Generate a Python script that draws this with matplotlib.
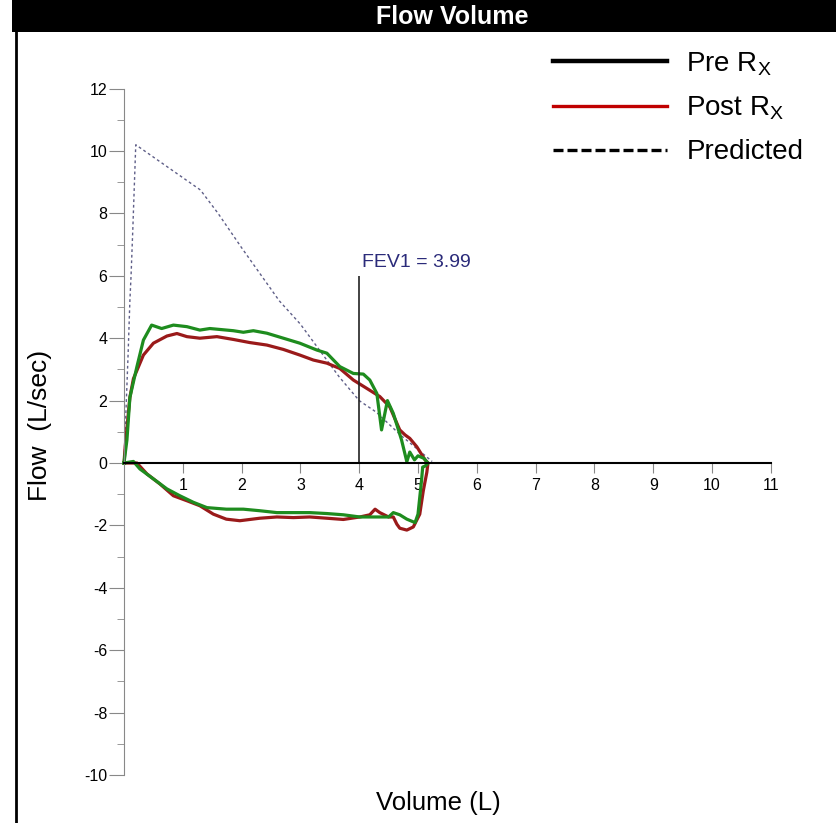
import matplotlib
matplotlib.use('Agg')
import matplotlib.pyplot as plt
from matplotlib.lines import Line2D
from matplotlib.patches import Rectangle

plt.rcParams['font.family'] = ['Liberation Sans', 'DejaVu Sans']
plt.rcParams['mathtext.default'] = 'regular'
plt.rcParams['axes.unicode_minus'] = False

# Post Rx loop (dark red): expiratory limb, then inspiratory limb back to 0
post_vol = [0.0, 0.02, 0.1, 0.16, 0.33, 0.5, 0.73, 0.9, 1.07, 1.29, 1.58, 1.86, 2.14, 2.43,
            2.71, 2.99, 3.22, 3.45, 3.67, 3.9, 4.13, 4.35, 4.52, 4.6, 4.69, 4.78, 4.86, 4.98,
            5.12, 5.17,
            5.15, 5.09, 5.03, 4.92, 4.81, 4.69, 4.64, 4.58, 4.5, 4.35, 4.27, 4.18, 4.01, 3.73,
            3.45, 3.16, 2.88, 2.6, 2.31, 1.97, 1.74, 1.52, 1.29, 1.07, 0.84, 0.61, 0.39, 0.22, 0.0]
post_flow = [0.0, 0.52, 2.1, 2.7, 3.46, 3.84, 4.07, 4.15, 4.05, 4.0, 4.05, 3.96, 3.86, 3.78,
             3.64, 3.46, 3.3, 3.2, 3.03, 2.66, 2.39, 2.13, 1.8, 1.45, 1.06, 0.9, 0.79, 0.52,
             0.1, 0.0,
             -0.3, -0.89, -1.64, -2.05, -2.15, -2.09, -1.96, -1.73, -1.73, -1.59, -1.48, -1.66,
             -1.73, -1.81, -1.77, -1.73, -1.75, -1.73, -1.77, -1.85, -1.8, -1.64, -1.37, -1.21,
             -1.05, -0.67, -0.35, 0.0, 0.0]

# second loop (green)
pre_vol = [0.0, 0.05, 0.1, 0.22, 0.33, 0.47, 0.64, 0.84, 1.07, 1.29, 1.46, 1.86, 2.03, 2.2,
           2.43, 2.71, 2.99, 3.28, 3.45, 3.67, 3.9, 4.07, 4.18, 4.3, 4.38, 4.48, 4.58, 4.72,
           4.81, 4.86, 4.94, 5.0, 5.1, 5.17,
           5.12, 5.08, 5.06, 5.0, 4.95, 4.81, 4.69, 4.58, 4.5, 4.29, 4.01, 3.73, 3.45, 3.16,
           2.88, 2.6, 2.31, 2.03, 1.74, 1.41, 1.18, 0.95, 0.73, 0.5, 0.27, 0.16, 0.0]
pre_flow = [0.0, 0.74, 2.1, 3.09, 3.94, 4.42, 4.31, 4.42, 4.37, 4.26, 4.31, 4.24, 4.19, 4.24,
            4.16, 4.0, 3.84, 3.62, 3.52, 3.09, 2.87, 2.85, 2.66, 2.23, 1.06, 2.0, 1.59, 0.74,
            0.04, 0.35, 0.1, 0.23, 0.15, 0.0,
            -0.1, -0.13, -0.56, -1.64, -1.91, -1.8, -1.66, -1.59, -1.73, -1.73, -1.73, -1.66,
            -1.62, -1.59, -1.59, -1.59, -1.53, -1.48, -1.48, -1.43, -1.26, -1.05, -0.83, -0.51,
            -0.19, 0.05, 0.0]

# predicted curve
pred_vol = [0.0, 0.03, 0.07, 0.1, 0.12, 0.15, 0.2, 1.3, 1.6, 2.0, 2.64, 3.0, 3.66, 4.0, 4.29,
            4.7, 5.24]
pred_flow = [0.0, 1.5, 3.5, 5.2, 6.0, 7.5, 10.2, 8.75, 8.0, 6.9, 5.2, 4.45, 2.76, 2.0, 1.63,
             0.9, 0.05]

fev1 = 3.99
fev1_top = 6.0

W, H = 837, 823
fig = plt.figure(figsize=(W / 100, H / 100), dpi=100)

# axes placed so that x 0..11 and y -10..12 land where the original has them
x0, x1, y0, y1 = -0.2, 11.3, -10.5, 12.5
px_x, px_y = 58.8, 31.2
left_px = 124 + x0 * px_x
right_px = 124 + x1 * px_x
top_px = 463 - y1 * px_y
bot_px = 463 - y0 * px_y
ax = fig.add_axes([left_px / W, 1 - bot_px / H, (right_px - left_px) / W, (bot_px - top_px) / H])
ax.set_xlim(x0, x1)
ax.set_ylim(y0, y1)
ax.patch.set_alpha(0)

ax.plot(pred_vol, pred_flow, color='#5f5f88', lw=1, linestyle=(0, (2, 2)))
ax.plot(post_vol, post_flow, color='#9a1a1a', lw=2.3)
ax.plot(pre_vol, pre_flow, color='#1e8c1e', lw=2.3)
ax.vlines(fev1, 0, fev1_top, color='#222222', lw=1.2)
ax.text(fev1 + 0.06, fev1_top + 0.15, f'FEV1 = {fev1:.2f}', color='#2b2b7a', fontsize=14,
        ha='left', va='bottom')

# axes look: spines crossing at the origin
for s in ['top', 'right']:
    ax.spines[s].set_visible(False)
ax.spines['left'].set_position(('data', 0))
ax.spines['bottom'].set_position(('data', 0))
ax.spines['left'].set_bounds(-10, 12)
ax.spines['bottom'].set_bounds(0, 11)
ax.spines['left'].set_color('#888888')
ax.spines['bottom'].set_color('black')
ax.spines['bottom'].set_linewidth(1.5)

ax.set_yticks(range(-10, 13, 2))
ax.set_yticks(range(-9, 12, 2), minor=True)
ax.set_xticks(range(1, 12))
ax.tick_params(axis='y', which='major', length=11, color='#888888', pad=1, labelsize=11.5)
ax.tick_params(axis='y', which='minor', length=5, color='#888888')
ax.tick_params(axis='x', which='major', length=7, color='#888888', pad=4, labelsize=11.5)

# title bar and left frame line
fig.patches.append(Rectangle((12 / W, 1 - 32 / H), 1 - 12 / W, 32 / H, transform=fig.transFigure,
                             facecolor='black', edgecolor='none'))
fig.text(452 / W, 1 - 17 / H, 'Flow Volume', color='white', fontsize=18, fontweight='bold',
         ha='center', va='center')
fig.add_artist(Line2D([16 / W, 16 / W], [0, 1], transform=fig.transFigure, color='black', lw=2))

fig.text(438 / W, 1 - 803 / H, 'Volume (L)', fontsize=18.5, ha='center', va='center')
fig.text(40 / W, 1 - 425 / H, 'Flow  (L/sec)', fontsize=19, ha='center', va='center', rotation=90)

handles = [Line2D([], [], color='black', lw=3.2),
           Line2D([], [], color='#c00000', lw=2.4),
           Line2D([], [], color='black', lw=2.4, linestyle=(0, (3, 1.2)))]
labels = ['Pre R$_X$', 'Post R$_X$', 'Predicted']
fig.legend(handles, labels, loc='upper left', bbox_to_anchor=(553 / W, 1 - 50 / H),
           frameon=False, fontsize=20, handlelength=4.1, handletextpad=0.7, labelspacing=0.62,
           borderpad=0, borderaxespad=0)

fig.savefig('out.png', dpi=100)
